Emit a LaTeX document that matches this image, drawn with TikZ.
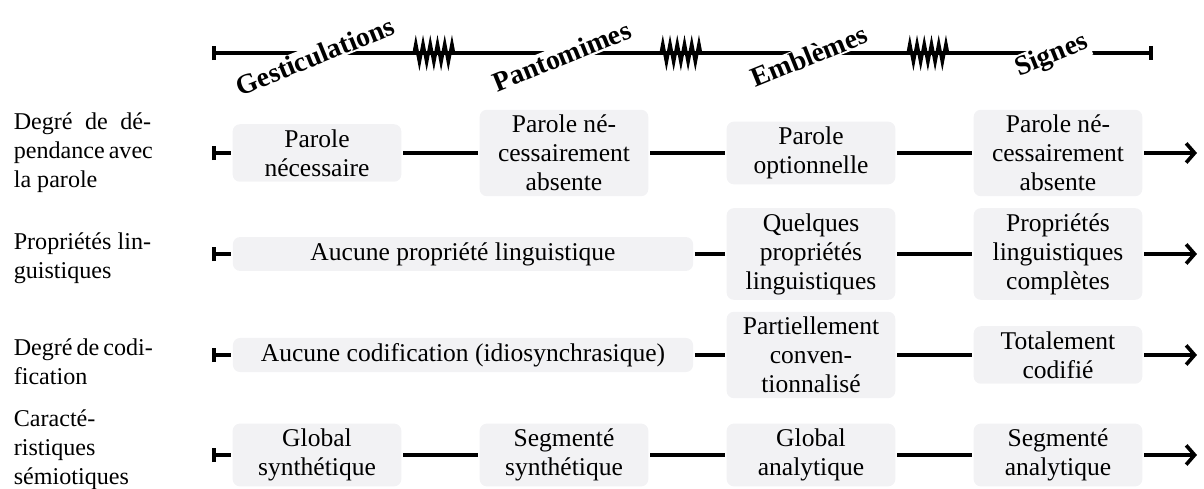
\documentclass[tikz,border=0pt]{standalone}
\usepackage{fontspec}
\setmainfont{Liberation Serif}
\usetikzlibrary{arrows.meta,decorations.pathmorphing}
\definecolor{boxgray}{RGB}{242,242,244}

\begin{document}
\begin{tikzpicture}[x=0.415pt, y=-0.415pt, line width=1.5pt,
    cell/.style={fill=boxgray, rounded corners=3pt, align=center,
      minimum width=70pt, inner xsep=2pt, inner ysep=2.2pt,
      font=\fontsize{10.6}{12}\selectfont},
    widecell/.style={cell, minimum width=191pt},
    kind/.style={fill=white, rotate=22, inner sep=0.5pt,
      font=\fontsize{11.5}{13}\selectfont\bfseries},
    rowlabel/.style={anchor=west, align=left, inner sep=0pt,
      font=\fontsize{10}{12}\selectfont},
    spring/.style={decorate, line width=1.3pt, line join=miter,
      decoration={zigzag, segment length=3pt, amplitude=4pt}},
    startbar/.style={{Bar[width=6pt]}-},
    endarrow/.style={-{Straight Barb[length=3.5pt,width=8pt,line width=1.5pt]}}]%
    \useasboundingbox (0,0) rectangle (1204,489);

    % continuum
    \coordinate (t0) at (212,53);
    \coordinate (t1) at (1153,53);
    \draw[{Bar[width=6pt]}-{Bar[width=6pt]}] (t0) -- (t1);
    \coordinate (z1a) at (414,53);
    \coordinate (z1b) at (457,53);
    \coordinate (z2a) at (661,53);
    \coordinate (z2b) at (704,53);
    \coordinate (z3a) at (908,53);
    \coordinate (z3b) at (951,53);
    \draw[spring] (z1a) -- (z1b);
    \draw[spring] (z2a) -- (z2b);
    \draw[spring] (z3a) -- (z3b);
    \node[kind] (gest) at (315,56) {Gesticulations};
    \node[kind] (pant) at (562,56) {Pantomimes};
    \node[kind] (embl) at (809,56) {Emblèmes};
    \node[kind] (sign) at (1052,56) {Signes};

    % criteres
    \node[rowlabel] (crit1) at (12,153)
      {\makebox[57pt][s]{Degré de dé-}\\\makebox[57pt][s]{pendance avec}\\la parole};
    \node[rowlabel] (crit2) at (12,258)
      {\makebox[57pt][s]{Propriétés lin-}\\guistiques};
    \node[rowlabel] (crit3) at (12,362)
      {\makebox[57pt][s]{Degré de codi-}\\fication};
    \node[rowlabel] (crit4) at (12,450)
      {Caracté-\\ristiques\\sémiotiques};

    % dependance avec la parole
    \node[cell] (dep1) at (317,153) {Parole\\nécessaire};
    \node[cell] (dep2) at (564,153) {Parole né-\\cessairement\\absente};
    \node[cell] (dep3) at (811,153) {Parole\\optionnelle};
    \node[cell] (dep4) at (1058,153) {Parole né-\\cessairement\\absente};
    \coordinate (dep0) at (212,153);
    \coordinate (dep5) at (1197,153);
    \draw[startbar] (dep0) -- (dep1);
    \draw (dep1) -- (dep2);
    \draw (dep2) -- (dep3);
    \draw (dep3) -- (dep4);
    \draw[endarrow] (dep4) -- (dep5);

    % proprietes linguistiques
    \node[widecell] (ling1) at (463,254) {Aucune propriété linguistique};
    \node[cell] (ling3) at (811,254) {Quelques\\propriétés\\linguistiques};
    \node[cell] (ling4) at (1058,254) {Propriétés\\linguistiques\\complètes};
    \coordinate (ling0) at (212,254);
    \coordinate (ling5) at (1197,254);
    \draw[startbar] (ling0) -- (ling1);
    \draw (ling1) -- (ling3);
    \draw (ling3) -- (ling4);
    \draw[endarrow] (ling4) -- (ling5);

    % codification
    \node[widecell] (cod1) at (463,355) {Aucune codification (idiosynchrasique)};
    \node[cell] (cod3) at (811,355) {Partiellement\\conven-\\tionnalisé};
    \node[cell] (cod4) at (1058,355) {Totalement\\codifié};
    \coordinate (cod0) at (212,355);
    \coordinate (cod5) at (1197,355);
    \draw[startbar] (cod0) -- (cod1);
    \draw (cod1) -- (cod3);
    \draw (cod3) -- (cod4);
    \draw[endarrow] (cod4) -- (cod5);

    % semiotique
    \node[cell] (sem1) at (317,455) {Global\\synthétique};
    \node[cell] (sem2) at (564,455) {Segmenté\\synthétique};
    \node[cell] (sem3) at (811,455) {Global\\analytique};
    \node[cell] (sem4) at (1058,455) {Segmenté\\analytique};
    \coordinate (sem0) at (212,455);
    \coordinate (sem5) at (1197,455);
    \draw[startbar] (sem0) -- (sem1);
    \draw (sem1) -- (sem2);
    \draw (sem2) -- (sem3);
    \draw (sem3) -- (sem4);
    \draw[endarrow] (sem4) -- (sem5);
  \end{tikzpicture}
\end{document}
